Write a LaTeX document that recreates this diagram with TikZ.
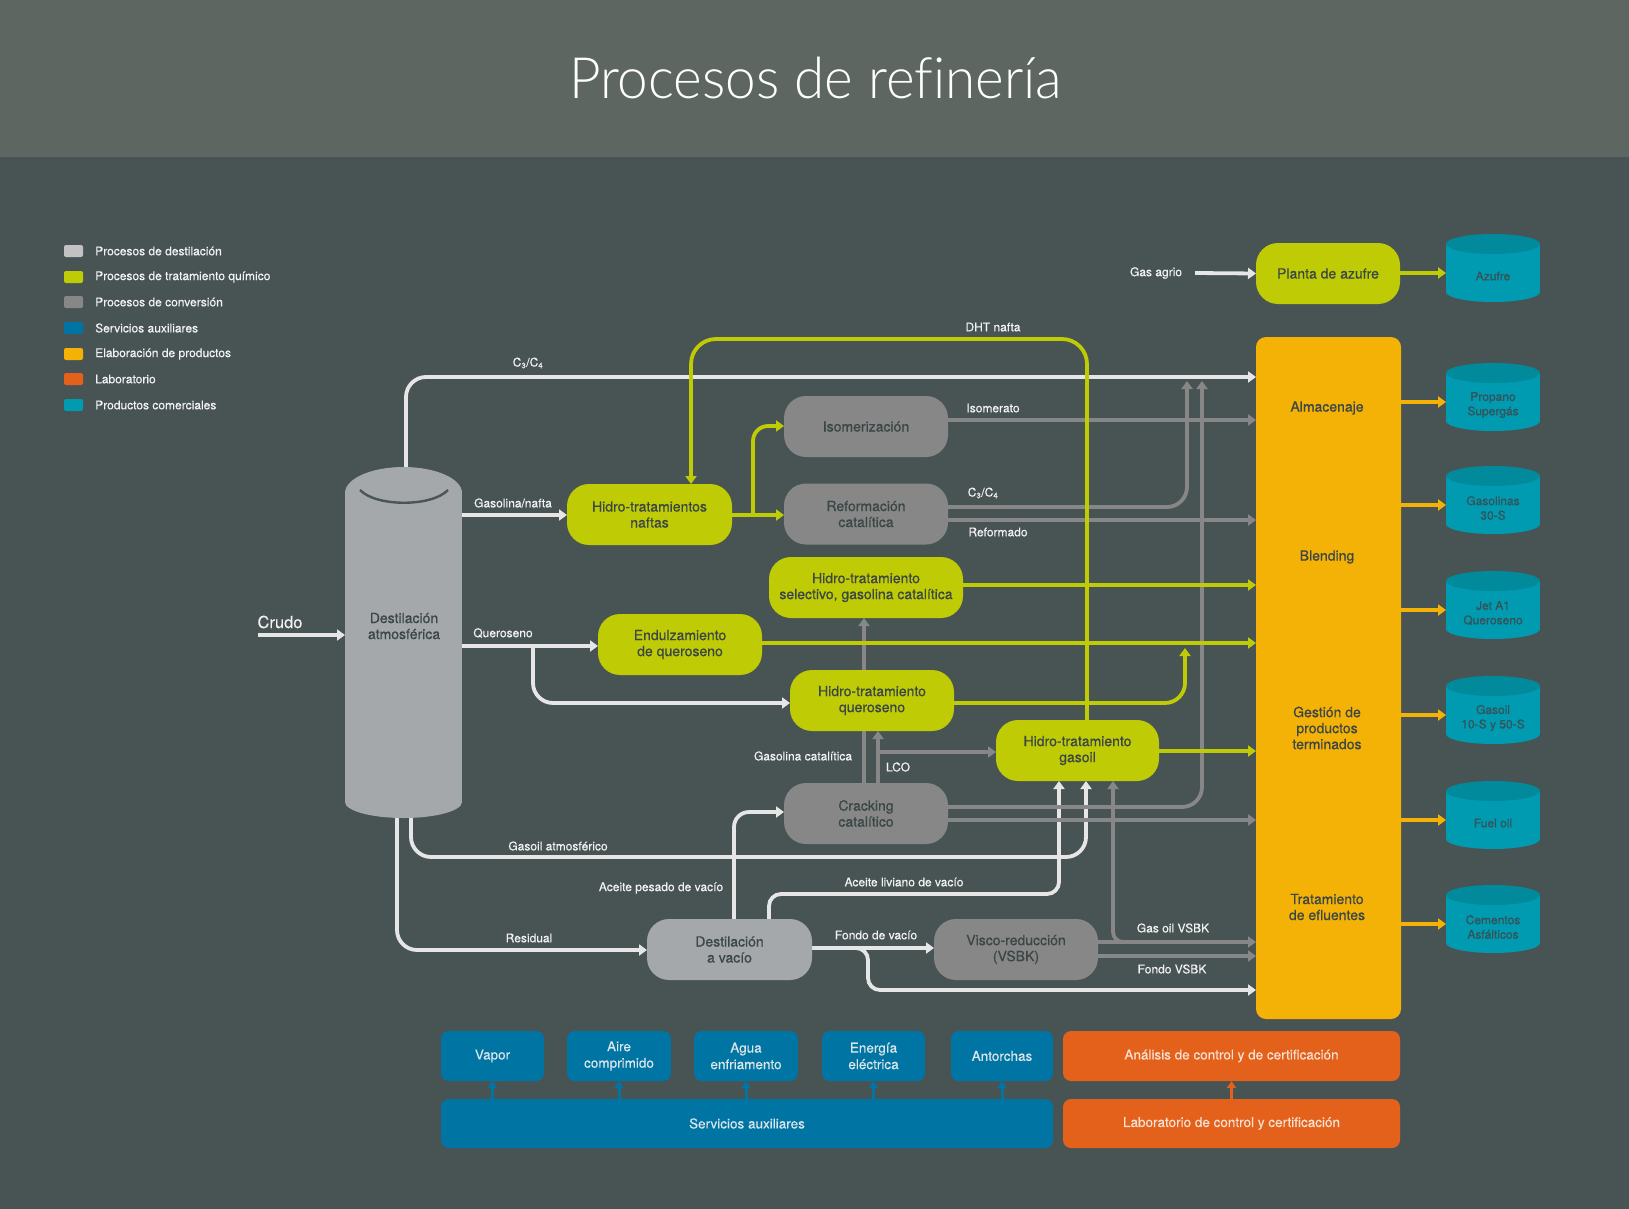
\documentclass[tikz,border=0pt]{standalone}
\usepackage{fontspec}
\setmainfont{TeX Gyre Heros}
\newfontfamily\medfont{TeX Gyre Heros}[FakeBold=0.6]
\newfontfamily\lblfont{TeX Gyre Heros}[FakeBold=0.25]
\IfFontExistsTF{Lato Light}{\newfontfamily\titlefont{Lato Light}[Ligatures=NoCommon]}{%
  \IfFontExistsTF{Lato Thin}{\newfontfamily\titlefont{Lato Thin}[Ligatures=NoCommon]}{%
    \IfFontExistsTF{Lato Hairline}{\newfontfamily\titlefont{Lato Hairline}[Ligatures=NoCommon]}{%
      \newfontfamily\titlefont{TeX Gyre Heros}}}}
\usetikzlibrary{arrows.meta}
\definecolor{bgc}{HTML}{485454}
\definecolor{bandc}{HTML}{5E6661}
\definecolor{limec}{HTML}{BFCB05}
\definecolor{convc}{HTML}{878787}
\definecolor{distc}{HTML}{A4A8AA}
\definecolor{legdist}{HTML}{C2C2C2}
\definecolor{bluec}{HTML}{0075A4}
\definecolor{yelc}{HTML}{F4B207}
\definecolor{orc}{HTML}{E4611B}
\definecolor{tealc}{HTML}{009BB0}
\definecolor{tealtop}{HTML}{008A9C}
\definecolor{linew}{HTML}{E6E6E6}
\definecolor{txtd}{HTML}{3B4646}
\definecolor{txtw}{HTML}{F2F2F2}
\definecolor{txtb}{HTML}{DCE6EA}
\definecolor{txto}{HTML}{F7E2D4}
\definecolor{txtc}{HTML}{35535A}
\definecolor{arcc}{HTML}{4A5656}
\pgfdeclarelayer{back}
\pgfdeclarelayer{lines}
\pgfsetlayers{back,lines,main}
\tikzset{
 arr/.style={-{Triangle[length=8pt,width=11pt]}},
 wl/.style={draw=linew, line width=3.8pt, arr},
 ll/.style={draw=limec, line width=3.8pt, arr},
 gl/.style={draw=convc, line width=3.8pt, arr},
 yl/.style={draw=yelc, line width=3.8pt, arr},
 bl/.style={draw=bluec, line width=3pt, -{Triangle[length=7pt,width=9pt]}},
 ol/.style={draw=orc, line width=3pt, -{Triangle[length=7pt,width=9pt]}},
 proc/.style={rounded corners=22pt, inner sep=0pt, outer sep=0pt, minimum height=61pt,
   align=center, font=\medfont\fontsize{14}{16}\selectfont, text=txtd},
 bigtxt/.style={inner sep=0pt, align=center, font=\medfont\fontsize{14}{16}\selectfont, text=txtd},
 lbl/.style={inner sep=0pt, font=\lblfont\fontsize{12}{14}\selectfont, text=txtw},
 legtxt/.style={inner sep=0pt, anchor=west, font=\lblfont\fontsize{12}{14}\selectfont, text=txtw},
 legsq/.style={inner sep=0pt, outer sep=0pt, minimum width=19pt, minimum height=12pt, rounded corners=2pt},
 cylbox/.style={inner sep=0pt, outer sep=0pt, minimum width=94pt, minimum height=48pt},
 cyltxt/.style={inner sep=0pt, align=center, font=\medfont\fontsize{12}{14.5}\selectfont, text=txtc},
 svc/.style={rounded corners=8pt, inner sep=0pt, outer sep=0pt, minimum height=50pt, align=center,
   font=\lblfont\fontsize{13.5}{16.5}\selectfont},
}
\newcommand{\prodcyl}[3]{%
  \fill[tealc] (1446,#2-29) rectangle (1540,#2+19);
  \fill[tealc] (1493,#2+19) ellipse[x radius=47pt, y radius=10pt];
  \fill[tealtop] (1493,#2-29) ellipse[x radius=47pt, y radius=10pt];
  \node[cylbox] (#1) at (1493,#2) {};
  \node[cyltxt] (#1t) at (1493,#2+3) {#3};
}
\begin{document}
\begin{tikzpicture}[x=1pt,y=-1pt]
\useasboundingbox (0,0) rectangle (1629,1209);
\begin{pgfonlayer}{back}
\fill[bgc] (0,0) rectangle (1629,1209);
\fill[bandc] (0,0) rectangle (1629,157);
\end{pgfonlayer}
% title
\node[anchor=base, inner sep=0pt, text=white, font=\titlefont\fontsize{57}{60}\selectfont] (title) at (815.5,99)
  {\resizebox{493pt}{\height}{Procesos de refinería}};
% legend
\foreach \c/\t/\y [count=\i] in {legdist/Procesos de destilación/251,
  limec/Procesos de tratamiento químico/277, convc/Procesos de conversión/302,
  bluec/Servicios auxiliares/328, yelc/Elaboración de productos/354,
  orc/Laboratorio/379, tealc/Productos comerciales/405}{
  \node[legsq, fill=\c] (leg\i) at (73.5,\y) {};
  \node[legtxt] (legt\i) at (95,\y) {\t};
}
% tower
\fill[distc] (345,493) rectangle (462,802);
\fill[distc] (403.5,493) ellipse[x radius=58.5pt, y radius=26pt];
\fill[distc] (403.5,802) ellipse[x radius=58.5pt, y radius=16pt];
\draw[arcc, line width=2.4pt] (360,490) .. controls (376,507) and (432,507) .. (448,490);
\node[inner sep=0pt, outer sep=0pt, minimum width=117pt, minimum height=351pt] (tower) at (403.5,642.5) {};
\node[bigtxt] (towert) at (404,626) {Destilación\\atmosférica};
% process nodes
\node[proc, fill=limec, minimum width=165pt] (naftas) at (649.5,514.5) {Hidro-tratamientos\\naftas};
\node[proc, fill=convc, minimum width=164pt] (isom) at (866,426.5) {Isomerización};
\node[proc, fill=convc, minimum width=164pt] (reform) at (866,514) {Reformación\\catalítica};
\node[proc, fill=limec, minimum width=194pt] (selec) at (866,587.5) {Hidro-tratamiento\\selectivo, gasolina catalítica};
\node[proc, fill=limec, minimum width=164pt] (endulz) at (680,644.5) {Endulzamiento\\de queroseno};
\node[proc, fill=limec, minimum width=164pt] (htq) at (872,700.5) {Hidro-tratamiento\\queroseno};
\node[proc, fill=limec, minimum width=163pt] (htg) at (1077.5,750.5) {Hidro-tratamiento\\gasoil};
\node[proc, fill=convc, minimum width=164pt] (crack) at (866,813.5) {Cracking\\catalítico};
\node[proc, fill=distc, minimum width=165pt] (vacio) at (729.5,949.5) {Destilación\\a vacío};
\node[proc, fill=convc, minimum width=164pt] (visco) at (1016,949.5) {Visco-reducción\\(VSBK)};
\node[proc, fill=limec, minimum width=144pt] (planta) at (1328,273.5) {Planta de azufre};
% product management
\node[fill=yelc, rounded corners=10pt, inner sep=0pt, outer sep=0pt, minimum width=145pt, minimum height=682pt] (yel) at (1328.5,678) {};
\node[bigtxt] (alm) at (1327,408) {Almacenaje};
\node[bigtxt] (blend) at (1327,557) {Blending};
\node[bigtxt] (gest) at (1327,728) {Gestión de\\productos\\terminados};
\node[bigtxt] (efl) at (1327,907) {Tratamiento\\de efluentes};
% commercial products
\prodcyl{azufre}{273}{Azufre}
\prodcyl{propano}{402}{Propano\\Supergás}
\prodcyl{gasolinas}{505}{Gasolinas\\30-S}
\prodcyl{jet}{610}{Jet A1\\Queroseno}
\prodcyl{gasoilp}{715}{Gasoil\\10-S y 50-S}
\prodcyl{fuel}{820}{Fuel oil}
\prodcyl{cementos}{924}{Cementos\\Asfálticos}
% services and lab
\node[svc, fill=bluec, text=txtb, minimum width=103pt] (vapor) at (492.5,1056) {Vapor};
\node[svc, fill=bluec, text=txtb, minimum width=104pt] (aire) at (619,1056) {Aire\\comprimido};
\node[svc, fill=bluec, text=txtb, minimum width=104pt] (agua) at (746,1056) {Agua\\enfriamento};
\node[svc, fill=bluec, text=txtb, minimum width=103pt] (energia) at (873.5,1056) {Energía\\eléctrica};
\node[svc, fill=bluec, text=txtb, minimum width=102pt] (antorchas) at (1002,1056) {Antorchas};
\node[svc, fill=orc, text=txto, minimum width=337pt] (analisis) at (1231.5,1056) {Análisis de control y de certificación};
\node[svc, fill=bluec, text=txtb, minimum width=612pt, minimum height=49pt] (servicios) at (747,1123.5) {Servicios auxiliares};
\node[svc, fill=orc, text=txto, minimum width=337pt, minimum height=49pt] (lab) at (1231.5,1123.5) {Laboratorio de control y certificación};
% line labels
\node[lbl, font=\lblfont\fontsize{16.5}{18}\selectfont] (crudo) at (280,622) {Crudo};
\node[lbl] (lc34) at (528,363) {C\textsubscript{3}/C\textsubscript{4}};
\node[lbl] (lgas) at (513,503) {Gasolina/nafta};
\node[lbl] (lquer) at (503,633) {Queroseno};
\node[lbl] (ldht) at (993,327) {DHT nafta};
\node[lbl] (liso) at (993,408) {Isomerato};
\node[lbl] (lc34b) at (983,493) {C\textsubscript{3}/C\textsubscript{4}};
\node[lbl] (lref) at (998,532) {Reformado};
\node[lbl] (lgcat) at (803,756) {Gasolina catalítica};
\node[lbl] (llco) at (898,767) {LCO};
\node[lbl] (lgatm) at (558,846) {Gasoil atmosférico};
\node[lbl] (lapes) at (661,888) {Aceite pesado de vacío};
\node[lbl] (laliv) at (904,882) {Aceite liviano de vacío};
\node[lbl] (lres) at (529,938) {Residual};
\node[lbl] (lfv) at (876,935) {Fondo de vacío};
\node[lbl] (lgvsbk) at (1173,928) {Gas oil VSBK};
\node[lbl] (lfvsbk) at (1172,969) {Fondo VSBK};
\node[lbl] (lgagrio) at (1156,273) {Gas agrio};
% free coordinates
\coordinate (crudoS) at (258,635);
\coordinate (gasagrioS) at (1195,273);
\coordinate (qbr) at (533,646);
\coordinate (nbr) at (753,515);
\coordinate (htqend) at (1185,648);
\coordinate (c34a) at (1187,381);
\coordinate (c34b) at (1202,381);
\coordinate (lcobr) at (878,752);
\coordinate (vsbkbr) at (1130,942);
\begin{pgfonlayer}{lines}
% white
\draw[wl] (crudoS) -- (crudoS -| tower.west);
\draw[wl] (gasagrioS) -- (planta.west);
\draw[wl, rounded corners=20pt] ([xshift=2.5pt]tower.north) -- (406,377) -- (yel.west |- 0,377);
\draw[wl] (tower.east |- 0,515) -- (naftas.west |- 0,515);
\draw[wl] (tower.east |- 0,646) -- (endulz.west |- 0,646);
\draw[wl, rounded corners=20pt] (qbr) -- (533,703) -- (htq.west |- 0,703);
\draw[wl, rounded corners=20pt] ([xshift=7.5pt]tower.south) -- (411,857) -- (1086,857) -- (htg.south -| 1086,0);
\draw[wl, rounded corners=20pt] ([xshift=-6.5pt]tower.south) -- (397,950) -- (vacio.west |- 0,950);
\draw[wl, rounded corners=15pt] (vacio.north -| 734,0) -- (734,812) -- (crack.west |- 0,812);
\draw[wl, rounded corners=12pt] (vacio.north -| 769,0) -- (769,894) -- (1059,894) -- (htg.south -| 1059,0);
\draw[wl] (vacio.east |- 0,948) -- (visco.west |- 0,948);
\draw[wl, rounded corners=12pt] (vacio.east |- 0,948) -- (868,948) -- (868,990) -- (yel.west |- 0,990);
% gray
\draw[gl] (isom.east |- 0,420) -- (yel.west |- 0,420);
\draw[gl, rounded corners=20pt] (reform.east |- 0,507) -- (1187,507) -- (c34a);
\draw[gl] (reform.east |- 0,520) -- (yel.west |- 0,520);
\draw[gl, rounded corners=20pt] (crack.east |- 0,807) -- (1202,807) -- (c34b);
\draw[gl] (crack.east |- 0,820) -- (yel.west |- 0,820);
\draw[gl] (crack.north -| 864,0) -- (selec.south -| 864,0);
\draw[gl] (crack.north -| 878,0) -- (htq.south -| 878,0);
\draw[gl] (lcobr) -- (htg.west |- 0,752);
\draw[gl] (visco.east |- 0,942) -- (yel.west |- 0,942);
\draw[gl] (visco.east |- 0,956) -- (yel.west |- 0,956);
\draw[gl, rounded corners=10pt] (vsbkbr) -- (1113,942) -- (htg.south -| 1113,0);
% lime
\draw[ll, rounded corners=25pt] (htg.north -| 1087,0) -- (1087,339) -- (691,339) -- (naftas.north -| 691,0);
\draw[ll] (naftas.east |- 0,515) -- (reform.west |- 0,515);
\draw[ll, rounded corners=15pt] (nbr) -- (753,426) -- (isom.west |- 0,426);
\draw[ll] (planta.east |- 0,273) -- (azufre.west);
\draw[ll] (selec.east |- 0,585) -- (yel.west |- 0,585);
\draw[ll] (endulz.east |- 0,643) -- (yel.west |- 0,643);
\draw[ll, rounded corners=20pt] (htq.east |- 0,703) -- (1185,703) -- (htqend);
\draw[ll] (htg.east |- 0,751) -- (yel.west |- 0,751);
% yellow
\foreach \p in {propano,gasolinas,jet,gasoilp,fuel,cementos}
  \draw[yl] (yel.east |- \p.west) -- (\p.west);
% services
\foreach \s in {vapor,aire,agua,energia,antorchas}
  \draw[bl] (servicios.north -| \s.south) -- (\s.south);
\draw[ol] (lab.north -| analisis.south) -- (analisis.south);
\end{pgfonlayer}
\end{tikzpicture}
\end{document}
